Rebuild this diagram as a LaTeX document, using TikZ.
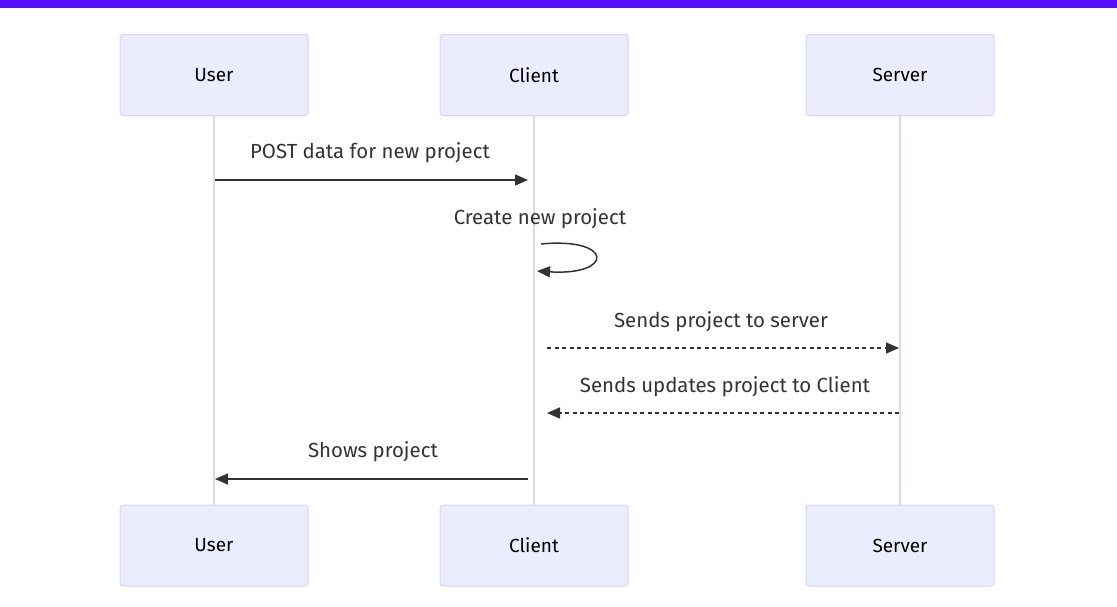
\documentclass[tikz,border=0pt]{standalone}
\usepackage{fontspec}
\setmainfont{Fira Sans}
\usetikzlibrary{arrows.meta}
\definecolor{barc}{HTML}{5A0EFF}
\definecolor{boxfill}{HTML}{ECECFF}
\definecolor{boxline}{HTML}{DCD2F5}
\definecolor{lifec}{HTML}{DED6F8}
\definecolor{txt}{HTML}{333333}
\tikzset{
  actor/.style={draw=boxline, fill=boxfill, line width=1pt, rounded corners=3pt,
    minimum width=188pt, minimum height=81pt, inner sep=0pt, font=\fontsize{19}{22}\selectfont, text=black},
  life/.style={draw=lifec, line width=2pt},
  msg/.style={draw=txt, line width=1.5pt, -{Triangle[length=13pt,width=11pt]}},
  dmsg/.style={msg, dash pattern=on 4pt off 3.5pt},
  lbl/.style={font=\fontsize{20.4}{24}\selectfont, text=txt, inner sep=0pt},
}
\begin{document}
\begin{tikzpicture}[x=1pt,y=-1pt]
\useasboundingbox (0,0) rectangle (1117,606);
\fill[barc] (0,0) rectangle (1117,8);
% lifelines
\coordinate (uT) at (214,115); \coordinate (uB) at (214,505);
\coordinate (cT) at (534,115); \coordinate (cB) at (534,505);
\coordinate (sT) at (900,115); \coordinate (sB) at (900,505);
\draw[life] (uT) -- (uB);
\draw[life] (cT) -- (cB);
\draw[life] (sT) -- (sB);
% actors
\node[actor] (u1) at (214,75) {User};
\node[actor] (c1) at (534,75) {Client};
\node[actor] (s1) at (900,75) {Server};
\node[actor] (u2) at (214,545.5) {User};
\node[actor] (c2) at (534,545.5) {Client};
\node[actor] (s2) at (900,545.5) {Server};
% message 1
\coordinate (m1a) at (215,180); \coordinate (m1b) at (528,180);
\draw[msg] (m1a) -- (m1b);
\node[lbl] (l1) at (370,153) {POST data for new project};
% message 2 self
\coordinate (m2a) at (541,244); \coordinate (m2b) at (537,271);
\draw[msg] (m2a) .. controls (614,237) and (614,276) .. (m2b);
\node[lbl] (l2) at (540,219) {Create new project};
% message 3
\coordinate (m3a) at (547,348); \coordinate (m3b) at (899,348);
\draw[dmsg] (m3a) -- (m3b);
\node[lbl] (l3) at (721,322) {Sends project to server};
% message 4
\coordinate (m4a) at (899,413); \coordinate (m4b) at (547,413);
\draw[dmsg] (m4a) -- (m4b);
\node[lbl] (l4) at (725,387) {Sends updates project to Client};
% message 5
\coordinate (m5a) at (528,479); \coordinate (m5b) at (215,479);
\draw[msg] (m5a) -- (m5b);
\node[lbl] (l5) at (373,452) {Shows project};
\end{tikzpicture}
\end{document}
